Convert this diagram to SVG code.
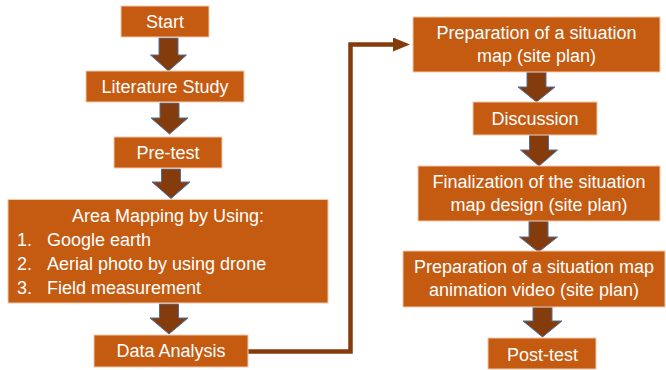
<svg xmlns="http://www.w3.org/2000/svg" width="666" height="370" viewBox="0 0 666 370">
<defs>
<style>
.box{fill:#C55A11;stroke:#F2C9AC;stroke-width:1}
.t{font-family:"Liberation Sans",Arial,sans-serif;font-size:18px;fill:#FFFFFF;text-anchor:middle}
.tl{font-family:"Liberation Sans",Arial,sans-serif;font-size:18px;fill:#FFFFFF}
.ba{fill:#843C0C;stroke:#4F6E9E;stroke-width:1;stroke-linejoin:miter}
.conn{fill:none;stroke:#843C0C;stroke-width:4.5}
</style>
<marker id="ah" markerUnits="userSpaceOnUse" markerWidth="18" markerHeight="16" refX="3" refY="7" orient="auto">
<path d="M0,0 L17,7 L0,14 Z" fill="#843C0C"/>
</marker>
</defs>
<rect width="666" height="370" fill="#FFFFFF"/>

<g id="connectors">
<path class="ba" d="M159,38 H178 V55 H186.5 L168.5,71 L150.5,55 H159 Z"/>
<path class="ba" d="M160,103 H179 V118 H188 L169.5,134 L151,118 H160 Z"/>
<path class="ba" d="M161.5,169 H180.5 V182 H190 L171,198.5 L152,182 H161.5 Z"/>
<path class="ba" d="M159.5,304 H178.5 V318 H188 L169,334 L150,318 H159.5 Z"/>
<path class="ba" d="M527,72 H546 V87 H555 L536.5,102 L518,87 H527 Z"/>
<path class="ba" d="M529.5,135 H548.5 V150 H557.5 L539,166 L520.5,150 H529.5 Z"/>
<path class="ba" d="M529,221 H548 V237 H557.5 L538.5,252 L519.5,237 H529 Z"/>
<path class="ba" d="M533,307 H552 V321 H562 L542.5,337 L523,321 H533 Z"/>
<path class="conn" d="M248,351.5 H350.5 V44.5 H396" marker-end="url(#ah)"/>
</g>

<g id="start">
<rect class="box" x="121" y="6" width="88" height="31"/>
<text class="t" x="165" y="28">Start</text>
</g>
<g id="literature-study">
<rect class="box" x="86" y="71" width="158" height="31"/>
<text class="t" x="165" y="93">Literature Study</text>
</g>
<g id="pre-test">
<rect class="box" x="114" y="137" width="108" height="31"/>
<text class="t" x="168" y="158.5">Pre-test</text>
</g>
<g id="area-mapping">
<rect class="box" x="8" y="199.5" width="320" height="103.5"/>
<text class="t" x="168" y="222">Area Mapping by Using:</text>
<text class="tl" x="17" y="246">1.</text>
<text class="tl" x="47" y="246">Google earth</text>
<text class="tl" x="17" y="270">2.</text>
<text class="tl" x="47" y="270">Aerial photo by using drone</text>
<text class="tl" x="17" y="294">3.</text>
<text class="tl" x="47" y="294">Field measurement</text>
</g>
<g id="data-analysis">
<rect class="box" x="94" y="335" width="154" height="32"/>
<text class="t" x="171" y="357">Data Analysis</text>
</g>
<g id="preparation-map">
<rect class="box" x="413" y="17" width="247" height="55"/>
<text class="t" x="536.5" y="39">Preparation of a situation</text>
<text class="t" x="536.5" y="62">map (site plan)</text>
</g>
<g id="discussion">
<rect class="box" x="473" y="102" width="124" height="33"/>
<text class="t" x="535" y="125">Discussion</text>
</g>
<g id="finalization">
<rect class="box" x="418" y="166" width="242" height="55"/>
<text class="t" x="539" y="188">Finalization of the situation</text>
<text class="t" x="539" y="211">map design (site plan)</text>
</g>
<g id="preparation-video">
<rect class="box" x="403" y="251" width="262" height="56"/>
<text class="t" x="534" y="273">Preparation of a situation map</text>
<text class="t" x="534" y="296">animation video (site plan)</text>
</g>
<g id="post-test">
<rect class="box" x="488" y="338" width="108" height="31"/>
<text class="t" x="542.5" y="360.5">Post-test</text>
</g>
</svg>
